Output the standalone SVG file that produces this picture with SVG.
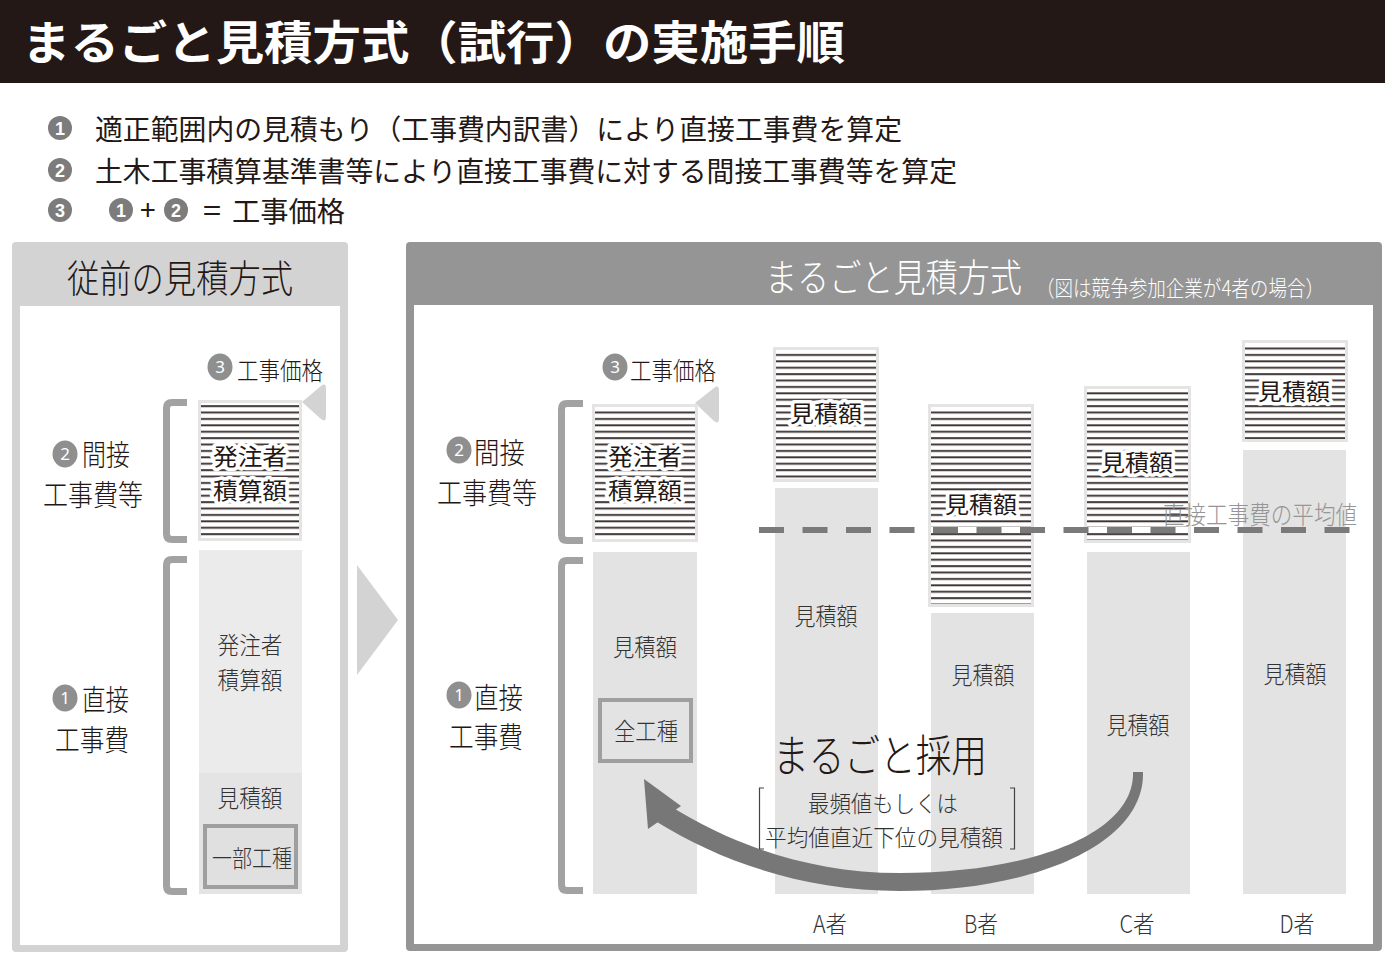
<svg xmlns="http://www.w3.org/2000/svg" width="1394" height="969" viewBox="0 0 1394 969">
<defs>
<pattern id="hatch" patternUnits="userSpaceOnUse" width="12" height="6.4">
<rect x="0" y="2" width="12" height="1.9" fill="#3a3030"/>
</pattern>
<style>
.jp{font-family:"Noto Sans CJK JP","Noto Sans CJK SC",sans-serif;fill:#231815;font-weight:300}
.title{font-family:"Noto Sans CJK JP",sans-serif;fill:#ffffff;font-weight:700;font-size:46px}
.bul{font-size:28px;font-weight:400}
.lbl{font-size:29px}
.price{font-size:25px}
.bar{font-size:24px;fill:#333}
.hat{font-size:23px;font-weight:400;stroke:#ffffff;stroke-width:7px;stroke-linejoin:round;paint-order:stroke}
.num{font-family:"Noto Sans","Liberation Sans",sans-serif;fill:#ffffff;font-size:17px;text-anchor:middle}
.bnum{font-family:"Liberation Sans","Noto Sans",sans-serif;fill:#ffffff;font-size:18px;font-weight:700;text-anchor:middle}
.bcirc{fill:#7c7c7c}
.pcirc{fill:#8f8f8f}
.brk{fill:none;stroke:#a2a2a2;stroke-width:7;stroke-linecap:butt}
.hbox{fill:#ffffff;stroke:#e4e4e4;stroke-width:3}
.hfill{fill:url(#hatch)}
.gbar{fill:#e3e3e3}
.mid{text-anchor:middle}
.ptr{fill:#d3d3d3}
</style>
</defs>
<rect width="1394" height="969" fill="#ffffff"/>

<g id="header">
<rect x="0" y="0" width="1385" height="83" fill="#231815"/>
<text class="title" x="22" y="59" textLength="823" lengthAdjust="spacingAndGlyphs">まるごと見積方式（試行）の実施手順</text>
</g>

<g id="bullets">
<circle class="bcirc" cx="60" cy="128" r="12"/><text class="bnum" x="60" y="134.5">1</text>
<text class="jp bul" x="95" y="140" textLength="807" lengthAdjust="spacingAndGlyphs">適正範囲内の見積もり（工事費内訳書）により直接工事費を算定</text>
<circle class="bcirc" cx="60" cy="170" r="12"/><text class="bnum" x="60" y="176.5">2</text>
<text class="jp bul" x="95" y="182" textLength="862" lengthAdjust="spacingAndGlyphs">土木工事積算基準書等により直接工事費に対する間接工事費等を算定</text>
<circle class="bcirc" cx="60" cy="210" r="12"/><text class="bnum" x="60" y="216.5">3</text>
<circle class="bcirc" cx="121" cy="210" r="12"/><text class="bnum" x="121" y="216.5">1</text>
<text class="jp bul" x="140" y="220" font-size="26">+</text>
<circle class="bcirc" cx="176" cy="210" r="12"/><text class="bnum" x="176" y="216.5">2</text>
<text class="jp bul" x="203" y="221" textLength="18" lengthAdjust="spacingAndGlyphs">=</text>
<text class="jp bul" x="232" y="222" textLength="113" lengthAdjust="spacingAndGlyphs">工事価格</text>
</g>

<g id="panel-old">
<rect x="12" y="242" width="336" height="710" rx="4" fill="#d3d3d4"/>
<rect x="20" y="306" width="320" height="639" fill="#ffffff"/>
<text class="jp" x="67" y="292" font-size="38" textLength="226" lengthAdjust="spacingAndGlyphs">従前の見積方式</text>
</g>

<g id="transition-arrow">
<polygon points="357,565 398,620 357,675" fill="#d3d3d4"/>
</g>

<g id="panel-new">
<rect x="406" y="242" width="976" height="709" rx="4" fill="#959595"/>
<rect x="414" y="305" width="959" height="639" fill="#ffffff"/>
<text class="jp" x="765" y="291" font-size="38" style="fill:#ffffff" textLength="257" lengthAdjust="spacingAndGlyphs">まるごと見積方式</text>
<text class="jp" x="1036" y="296" font-size="22" style="fill:#ffffff" textLength="288" lengthAdjust="spacingAndGlyphs">（図は競争参加企業が4者の場合）</text>
</g>

<g id="old-labels">
<ellipse class="pcirc" cx="220" cy="367" rx="12.5" ry="13.5"/><text class="num" x="220" y="373">3</text>
<text class="jp price" x="237" y="380" textLength="86" lengthAdjust="spacingAndGlyphs">工事価格</text>
<path class="ptr" d="M302,402 L321,386 Q326,382 326,389 V416 Q326,423 321,419 Z"/>
<ellipse class="pcirc" cx="65" cy="454" rx="12.5" ry="13.5"/><text class="num" x="65" y="460">2</text>
<text class="jp lbl" x="82" y="466" textLength="48" lengthAdjust="spacingAndGlyphs">間接</text>
<text class="jp lbl" x="43" y="506" textLength="100" lengthAdjust="spacingAndGlyphs">工事費等</text>
<ellipse class="pcirc" cx="65" cy="698" rx="12.5" ry="13.5"/><text class="num" x="65" y="704">1</text>
<text class="jp lbl" x="82" y="711" textLength="47" lengthAdjust="spacingAndGlyphs">直接</text>
<text class="jp lbl" x="55" y="751" textLength="74" lengthAdjust="spacingAndGlyphs">工事費</text>
</g>

<g id="old-brackets">
<path class="brk" d="M187,402.5 H172 Q166.5,402.5 166.5,408 V534 Q166.5,539.5 172,539.5 H187"/>
<path class="brk" d="M187,559.5 H172 Q166.5,559.5 166.5,565 V886 Q166.5,891.5 172,891.5 H187"/>
</g>

<g id="old-indirect">
<rect class="hbox" x="199.5" y="401.5" width="101" height="138"/>
<rect class="hfill" x="201" y="404" width="98" height="134"/>
<text class="jp hat mid" x="250" y="465" textLength="74" lengthAdjust="spacingAndGlyphs">発注者</text>
<text class="jp hat mid" x="250" y="499" textLength="74" lengthAdjust="spacingAndGlyphs">積算額</text>
</g>

<g id="old-direct">
<rect x="199" y="550" width="103" height="344" fill="#ebebeb"/>
<rect x="199" y="773" width="103" height="121" fill="#e4e4e4"/>
<text class="jp bar mid" x="250" y="654" textLength="65" lengthAdjust="spacingAndGlyphs">発注者</text>
<text class="jp bar mid" x="250" y="689" textLength="65" lengthAdjust="spacingAndGlyphs">積算額</text>
<text class="jp bar mid" x="250" y="807" textLength="65" lengthAdjust="spacingAndGlyphs">見積額</text>
<rect x="205" y="826" width="91" height="61" fill="#e0e0e0" stroke="#9f9f9f" stroke-width="4"/>
<text class="jp bar mid" x="252" y="867" textLength="80" lengthAdjust="spacingAndGlyphs">一部工種</text>
</g>

<g id="new-labels">
<ellipse class="pcirc" cx="615" cy="367" rx="12.5" ry="13.5"/><text class="num" x="615" y="373">3</text>
<text class="jp price" x="630" y="380" textLength="86" lengthAdjust="spacingAndGlyphs">工事価格</text>
<path class="ptr" d="M695,403 L714,388 Q719,384 719,391 V418 Q719,425 714,421 Z"/>
<ellipse class="pcirc" cx="459" cy="450" rx="12.5" ry="13.5"/><text class="num" x="459" y="456">2</text>
<text class="jp lbl" x="474" y="464" textLength="51" lengthAdjust="spacingAndGlyphs">間接</text>
<text class="jp lbl" x="437" y="504" textLength="100" lengthAdjust="spacingAndGlyphs">工事費等</text>
<ellipse class="pcirc" cx="459" cy="695" rx="12.5" ry="13.5"/><text class="num" x="459" y="701">1</text>
<text class="jp lbl" x="474" y="709" textLength="49" lengthAdjust="spacingAndGlyphs">直接</text>
<text class="jp lbl" x="449" y="748" textLength="74" lengthAdjust="spacingAndGlyphs">工事費</text>
</g>

<g id="new-brackets">
<path class="brk" d="M583,403.5 H567 Q561.5,403.5 561.5,409 V535 Q561.5,540.5 567,540.5 H583"/>
<path class="brk" d="M583,560.5 H567 Q561.5,560.5 561.5,566 V885 Q561.5,890.5 567,890.5 H583"/>
</g>

<g id="adopted">
<rect class="hbox" x="593.5" y="405.5" width="103" height="135"/>
<rect class="hfill" x="595" y="408" width="100" height="131"/>
<text class="jp hat mid" x="645" y="465" textLength="74" lengthAdjust="spacingAndGlyphs">発注者</text>
<text class="jp hat mid" x="645" y="499" textLength="74" lengthAdjust="spacingAndGlyphs">積算額</text>
<rect class="gbar" x="593" y="552" width="104" height="342"/>
<text class="jp bar mid" x="645" y="656" textLength="64" lengthAdjust="spacingAndGlyphs">見積額</text>
<rect x="600" y="700" width="91" height="61" fill="#e3e3e3" stroke="#9f9f9f" stroke-width="4"/>
<text class="jp bar mid" x="646" y="740" textLength="64" lengthAdjust="spacingAndGlyphs">全工種</text>
</g>

<g id="bidder-a">
<rect class="hbox" x="774.5" y="348.5" width="103" height="132"/>
<rect class="hfill" x="776" y="351" width="100" height="128"/>
<text class="jp hat mid" x="826" y="422" textLength="72" lengthAdjust="spacingAndGlyphs">見積額</text>
<rect class="gbar" x="775" y="488" width="103" height="406"/>
<text class="jp bar mid" x="826" y="625" textLength="63" lengthAdjust="spacingAndGlyphs">見積額</text>
<text class="jp bar mid" x="830" y="933" textLength="34" lengthAdjust="spacingAndGlyphs">A者</text>
</g>

<g id="bidder-b">
<rect class="hbox" x="929.5" y="405.5" width="103" height="200"/>
<rect class="hfill" x="931" y="408" width="100" height="196"/>
<text class="jp hat mid" x="981" y="513" textLength="72" lengthAdjust="spacingAndGlyphs">見積額</text>
<rect class="gbar" x="931" y="613" width="103" height="281"/>
<text class="jp bar mid" x="983" y="684" textLength="63" lengthAdjust="spacingAndGlyphs">見積額</text>
<text class="jp bar mid" x="981" y="933" textLength="34" lengthAdjust="spacingAndGlyphs">B者</text>
</g>

<g id="bidder-c">
<rect class="hbox" x="1085.5" y="387.5" width="104" height="154"/>
<rect class="hfill" x="1087" y="390" width="101" height="150"/>
<text class="jp hat mid" x="1137" y="471" textLength="72" lengthAdjust="spacingAndGlyphs">見積額</text>
<rect class="gbar" x="1087" y="552" width="103" height="342"/>
<text class="jp bar mid" x="1138" y="734" textLength="63" lengthAdjust="spacingAndGlyphs">見積額</text>
<text class="jp bar mid" x="1137" y="933" textLength="35" lengthAdjust="spacingAndGlyphs">C者</text>
</g>

<g id="bidder-d">
<rect class="hbox" x="1243.5" y="341.5" width="103" height="99"/>
<rect class="hfill" x="1245" y="344" width="100" height="95"/>
<text class="jp hat mid" x="1294" y="400" textLength="72" lengthAdjust="spacingAndGlyphs">見積額</text>
<rect class="gbar" x="1243" y="450" width="103" height="444"/>
<text class="jp bar mid" x="1295" y="683" textLength="63" lengthAdjust="spacingAndGlyphs">見積額</text>
<text class="jp bar mid" x="1297" y="933" textLength="35" lengthAdjust="spacingAndGlyphs">D者</text>
</g>

<g id="connectors">
<g id="average-line">
<line x1="931" y1="530" x2="1031" y2="530" stroke="#ffffff" stroke-width="6"/>
<line x1="1087" y1="530" x2="1188" y2="530" stroke="#ffffff" stroke-width="6"/>
<line x1="759" y1="530" x2="1357" y2="530" stroke="#7a7a7a" stroke-width="6" stroke-dasharray="25 18.5"/>
<text class="jp" x="1163" y="524" font-size="25" style="fill:#959595" textLength="194" lengthAdjust="spacingAndGlyphs">直接工事費の平均値</text>
</g>
<g id="adopt-arrow">
<path d="M1133,772 C1135,835 1028,873 900,873 C802,873 725,840 670,806 L657,822 C715,858 798,891 900,891 C1032,891 1145,845 1143,772 Z" fill="#777777"/>
<polygon points="644,779 681,806 648,829" fill="#777777"/>
</g>
</g>

<g id="adopt-label">
<text class="jp" x="773" y="772" font-size="44" textLength="214" lengthAdjust="spacingAndGlyphs">まるごと採用</text>
<text class="jp mid" x="883" y="812" font-size="23" style="fill:#333" textLength="150" lengthAdjust="spacingAndGlyphs">最頻値もしくは</text>
<text class="jp" x="765" y="846" font-size="23" style="fill:#333" textLength="238" lengthAdjust="spacingAndGlyphs">平均値直近下位の見積額</text>
<path d="M764,788 H759.5 V849 H764" fill="none" stroke="#444" stroke-width="1.2"/>
<path d="M1010,788 H1014.5 V849 H1010" fill="none" stroke="#444" stroke-width="1.2"/>
</g>
</svg>
